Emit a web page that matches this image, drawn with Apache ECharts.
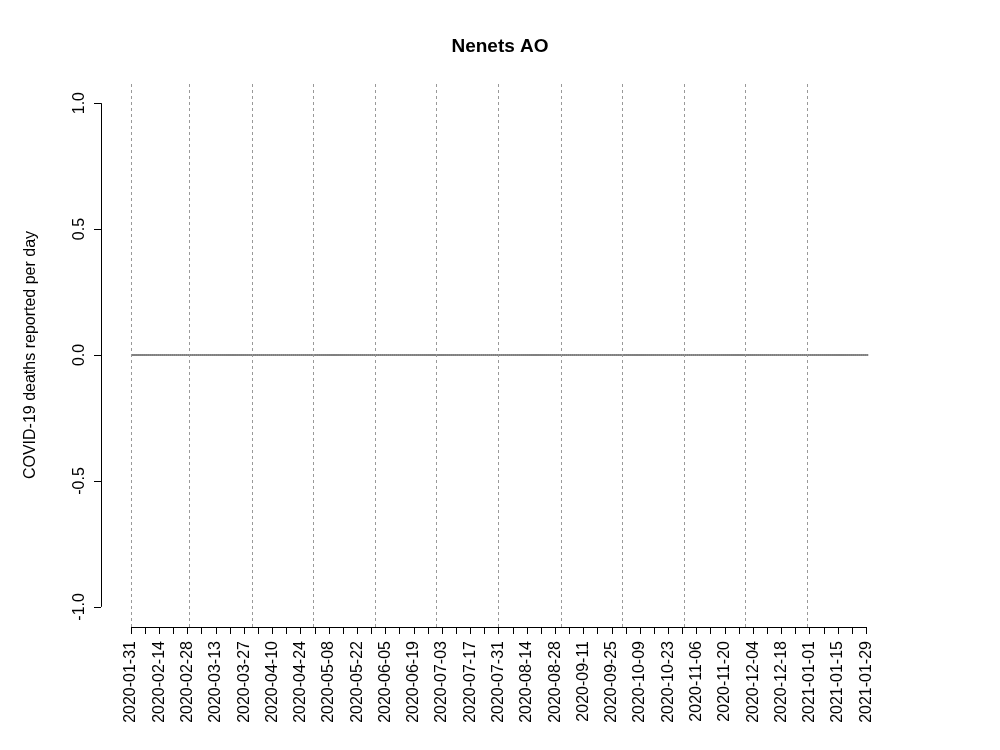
<!DOCTYPE html>
<html><head><meta charset="utf-8">
<script src="https://cdn.jsdelivr.net/npm/echarts@6/dist/echarts.min.js"></script>
<style>html,body{margin:0;background:#fff}#c{width:1000px;height:750px}</style>
</head><body><div id="c"></div>
<script>
const startDate = '2020-01-31';
const dayCount = 366;
const deaths = new Array(dayCount).fill(0);
const monthEndDays = ['2020-01-31','2020-02-29','2020-03-31','2020-04-30','2020-05-31','2020-06-30','2020-07-31','2020-08-31','2020-09-30','2020-10-31','2020-11-30','2020-12-31'];
const yTicks = [-1, -0.5, 0, 0.5, 1];

const t0 = Date.UTC(2020,0,31);
function dayIdx(s){const p=s.split('-');return Math.round((Date.UTC(+p[0],+p[1]-1,+p[2])-t0)/86400000);}
function dayStr(d){return new Date(t0+d*86400000).toISOString().slice(0,10);}
const data = deaths.map((v,i)=>[i,v]);
const tickVals=[],labelVals=[];
for(let d=0;d<=364;d+=7){tickVals.push(d); if(d%14===0)labelVals.push(d);}
const F='Liberation Sans, Arial, sans-serif';
const chart=echarts.init(document.getElementById('c'));
chart.setOption({
  animation:false,
  title:{text:'Nenets AO',left:'center',top:32,textStyle:{fontFamily:F,fontSize:19,fontWeight:'bold',color:'#000'}},
  grid:{left:101,right:101,top:83,bottom:123},
  xAxis:{type:'value',min:-14.85,max:380.2,splitLine:{show:false},axisLine:{show:false,onZero:false},
    axisTick:{show:true,customValues:tickVals,length:7,lineStyle:{color:'#000'}},
    axisLabel:{customValues:labelVals,rotate:90,margin:14,fontFamily:F,fontSize:16,color:'#000',formatter:v=>dayStr(v)}},
  yAxis:{type:'value',min:-1.08,max:1.08,splitLine:{show:false},axisLine:{show:false,onZero:false},
    name:'COVID-19 deaths reported per day',nameLocation:'middle',nameGap:62,nameRotate:90,
    nameTextStyle:{fontFamily:F,fontSize:16,color:'#000'},
    axisTick:{show:true,customValues:yTicks,length:7,lineStyle:{color:'#000'}},
    axisLabel:{customValues:yTicks,rotate:90,margin:13,fontFamily:F,fontSize:16,color:'#000',formatter:v=>v.toFixed(1)}},
  series:[{type:'line',data:data,symbol:'none',lineStyle:{color:'#000',width:1},
    markLine:{silent:true,symbol:'none',label:{show:false},animation:false,
      data:[
        ...monthEndDays.map(s=>({xAxis:dayIdx(s),lineStyle:{color:'#999',type:[3,3],width:1}})),
        [{coord:[-14.85,-1],lineStyle:{color:'#000',type:'solid',width:1}},{coord:[-14.85,1]}],
        [{coord:[0,-1.08],lineStyle:{color:'#000',type:'solid',width:1}},{coord:[364,-1.08]}]
      ]}}]
});
</script></body></html>
